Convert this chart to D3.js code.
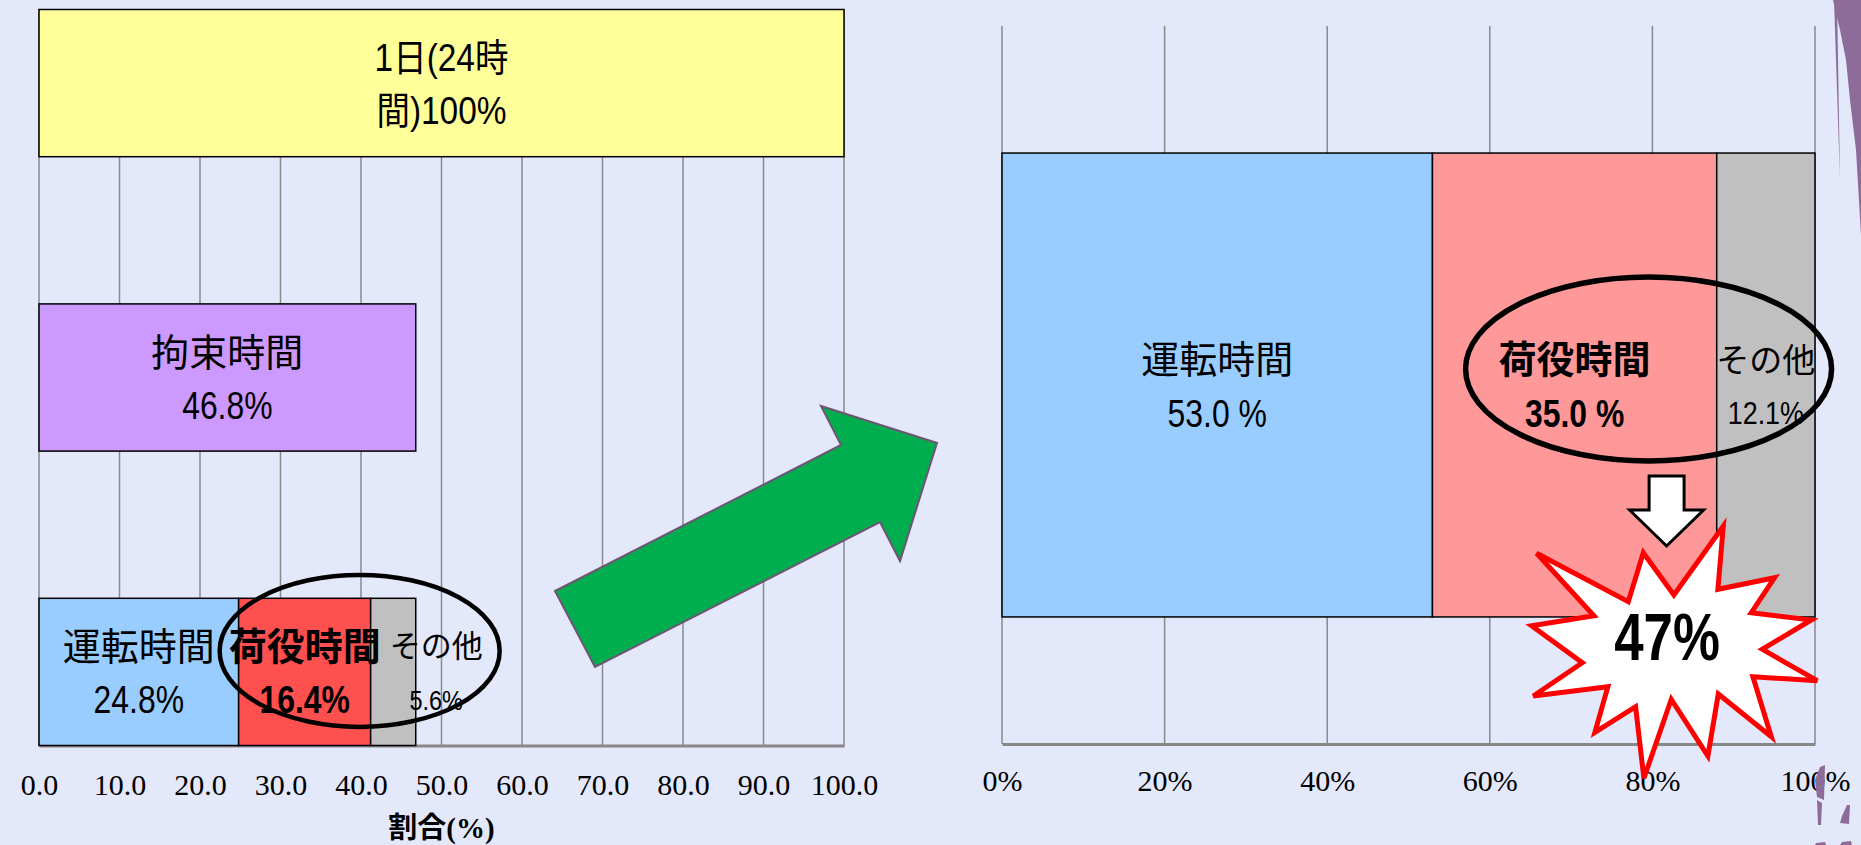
<!DOCTYPE html>
<html>
<head>
<meta charset="utf-8">
<script src="https://cdn.jsdelivr.net/npm/d3@7"></script>
<style>
  body { margin: 0; background: #e3e8fb; overflow: hidden; }
</style>
</head>
<body>
<div id="chart"></div>
<script>
// ---- data ----
var leftCategories = ["1日(24時間)", "拘束時間", "内訳"];
var dayShare = 100;          // 1日(24時間)
var bindShare = 46.8;        // 拘束時間
var partNames = ["運転時間", "荷役時間", "その他"];
var partShareOfDay = [24.8, 16.4, 5.6];     // % of the 24h day
var partShareOfBind = [53.0, 35.0, 12.1];   // % of 拘束時間
var leftTicks = [0, 10, 20, 30, 40, 50, 60, 70, 80, 90, 100];
var rightTicks = [0, 0.2, 0.4, 0.6, 0.8, 1];
var dayLabel = ["1日(24時", "間)100%"];
var bindLabel = ["拘束時間", "46.8%"];
var leftValueLabels = ["24.8%", "16.4%", "5.6%"];
var rightValueLabels = ["53.0 %", "35.0 %", "12.1%"];
var axisTitle = "割合(%)";
var highlightText = "47%";

// ---- setup ----
var W = 1861, H = 845;
var labelFont = "'Liberation Sans','Noto Sans CJK JP',sans-serif";
var tickFont = "'Liberation Serif','Noto Sans CJK JP',serif";

var svg = d3.select("#chart").append("svg")
    .attr("width", W)
    .attr("height", H)
    .style("background", "#e3e8fb");

// left chart scales
var xL = d3.scaleLinear().domain([0, 100]).range([39, 844]);
var yL = d3.scaleBand().domain(leftCategories).range([9.5, 745.5])
    .paddingInner(0.5).paddingOuter(0);

// right chart scales (100% stacked)
var xR = d3.scaleLinear().domain([0, 1]).range([1002, 1815]);
var yR = d3.scaleBand().domain(["内訳"]).range([26, 744]).padding(0.215);

var leftColors = ["#99ccff", "#ff5050", "#c0c0c0"];
var rightColors = ["#99ccff", "#ff9999", "#c0c0c0"];

// gridlines
function grid(g, x, ticks, y0, y1) {
  g.selectAll("line").data(ticks).enter().append("line")
    .attr("x1", function(d) { return x(d); })
    .attr("x2", function(d) { return x(d); })
    .attr("y1", y0).attr("y2", y1)
    .attr("stroke", "#8a8a8a").attr("stroke-width", 1.5);
}
grid(svg.append("g"), xL, leftTicks, yL.range()[0], yL.range()[1]);
grid(svg.append("g"), xR, rightTicks, yR.range()[0], yR.range()[1]);

// axes
var axL = svg.append("g").attr("transform", "translate(0," + yL.range()[1] + ")")
  .call(d3.axisBottom(xL).tickValues(leftTicks).tickFormat(d3.format(".1f")).tickSize(0).tickPadding(28));
var axR = svg.append("g").attr("transform", "translate(0," + yR.range()[1] + ")")
  .call(d3.axisBottom(xR).tickValues(rightTicks).tickFormat(d3.format(".0%")).tickSize(0).tickPadding(26));
[axL, axR].forEach(function(ax) {
  ax.attr("font-family", null);
  ax.select(".domain").attr("stroke", "#888").attr("stroke-width", 3);
  ax.selectAll("text").style("font-family", tickFont).attr("font-size", 30).attr("fill", "#000");
});

svg.append("text")
  .attr("x", (xL.range()[0] + xL.range()[1]) / 2)
  .attr("y", 838)
  .attr("text-anchor", "middle")
  .style("font-family", tickFont)
  .attr("font-weight", "bold")
  .attr("font-size", 29)
  .text(axisTitle);

// ---- label helper: one text per line, digits squeezed horizontally ----
function line(g, x, y, str, size, weight, sx) {
  g.append("text")
    .attr("transform", "translate(" + x + "," + y + ") scale(" + sx + ",1)")
    .attr("text-anchor", "middle")
    .attr("dominant-baseline", "central")
    .style("font-family", labelFont)
    .attr("font-size", size)
    .attr("font-weight", weight || "normal")
    .attr("fill", "#000")
    .text(str);
}
function twoLines(g, x, yc, lines, opts) {
  opts = opts || {};
  line(g, x, yc - 25, lines[0], opts.size || 38, opts.weight, opts.sx1 || 1);
  line(g, x, yc + 28, lines[1], opts.size2 || 38, opts.weight, opts.sx2 || 0.84);
}

// ---- left bars ----
var singles = [
  {cat: leftCategories[0], value: dayShare, color: "#ffff99", label: dayLabel, sx1: 0.88},
  {cat: leftCategories[1], value: bindShare, color: "#cc99ff", label: bindLabel, sx1: 1}
];
var gL = svg.append("g");
gL.selectAll("rect.single").data(singles).enter().append("rect")
  .attr("class", "single")
  .attr("x", xL(0))
  .attr("y", function(d) { return yL(d.cat); })
  .attr("width", function(d) { return xL(d.value) - xL(0); })
  .attr("height", yL.bandwidth())
  .attr("fill", function(d) { return d.color; })
  .attr("stroke", "#000").attr("stroke-width", 1.5);
singles.forEach(function(d) {
  twoLines(gL, xL(d.value / 2), yL(d.cat) + yL.bandwidth() / 2, d.label, {sx1: d.sx1, sx2: d.sx1 < 1 ? 0.88 : 0.84});
});

var rowL = {};
partNames.forEach(function(n, i) { rowL[n] = partShareOfDay[i]; });
var stackL = d3.stack().keys(partNames)([rowL]);
var yS = yL(leftCategories[2]);
gL.selectAll("rect.part").data(stackL).enter().append("rect")
  .attr("class", "part")
  .attr("x", function(s) { return xL(s[0][0]); })
  .attr("y", yS)
  .attr("width", function(s) { return xL(s[0][1]) - xL(s[0][0]); })
  .attr("height", yL.bandwidth())
  .attr("fill", function(s, i) { return leftColors[i]; })
  .attr("stroke", "#000").attr("stroke-width", 1.5);

var ycL = yS + yL.bandwidth() / 2;
stackL.forEach(function(s, i) {
  var cx = xL((s[0][0] + s[0][1]) / 2);
  if (i === 2) cx += 43;
  twoLines(gL, cx, ycL, [partNames[i], leftValueLabels[i]], {
    weight: i === 1 ? "bold" : "normal",
    size: i === 2 ? 31 : 38,
    size2: i === 2 ? 28 : 38
  });
});

// ---- right bar ----
var rowR = {};
partNames.forEach(function(n, i) { rowR[n] = partShareOfBind[i]; });
var stackR = d3.stack().keys(partNames).offset(d3.stackOffsetExpand)([rowR]);
var gR = svg.append("g");
gR.selectAll("rect").data(stackR).enter().append("rect")
  .attr("x", function(s) { return xR(s[0][0]); })
  .attr("y", yR("内訳"))
  .attr("width", function(s) { return xR(s[0][1]) - xR(s[0][0]); })
  .attr("height", yR.bandwidth())
  .attr("fill", function(s, i) { return rightColors[i]; })
  .attr("stroke", "#000").attr("stroke-width", 1.5);

var ycR = yR("内訳") + yR.bandwidth() / 2;
stackR.forEach(function(s, i) {
  var cx = xR((s[0][0] + s[0][1]) / 2);
  twoLines(gR, cx, ycR, [partNames[i], rightValueLabels[i]], {
    weight: i === 1 ? "bold" : "normal",
    size: i === 2 ? 33 : 38,
    size2: i === 2 ? 32 : 38
  });
});

// ---- annotations ----
var ann = svg.append("g");
// ellipses round 荷役時間
var hxL = xL((stackL[1][0][0] + stackL[1][0][1]) / 2);
ann.append("ellipse")
  .attr("cx", hxL + 55).attr("cy", ycL - 21).attr("rx", 140).attr("ry", 76)
  .attr("fill", "none").attr("stroke", "#000").attr("stroke-width", 4.5);

var hxR = xR((stackR[1][0][0] + stackR[1][0][1]) / 2);
ann.append("ellipse")
  .attr("cx", hxR + 74).attr("cy", ycR - 16).attr("rx", 183).attr("ry", 92)
  .attr("fill", "none").attr("stroke", "#000").attr("stroke-width", 5.5);

// green arrow between the two charts
var greenArrow = [[555, 591], [595, 667], [880, 522], [900, 561], [937, 443], [821, 406], [841, 445]];
ann.append("polygon")
  .attr("points", greenArrow.map(function(p) { return p.join(","); }).join(" "))
  .attr("fill", "#00ae4f").attr("stroke", "#6e5573").attr("stroke-width", 2);

// white down arrow
var ax0 = hxR + 92, ay0 = ycR + 91;
var downArrow = [[-17.5, 0], [17.5, 0], [17.5, 34], [37, 34], [0, 70], [-37, 34], [-17.5, 34]];
ann.append("polygon")
  .attr("points", downArrow.map(function(p) { return (ax0 + p[0]) + "," + (ay0 + p[1]); }).join(" "))
  .attr("fill", "#fff").attr("stroke", "#000").attr("stroke-width", 3).attr("stroke-linejoin", "miter");

// starburst with 47%
var sx = hxR + 93.5, sy = ycR + 266;
var burst = [[-131.5, -97.7], [-39.8, -49.3], [-24.8, -98.3], [5.8, -56], [55.2, -125], [49.8, -61.7],
  [106.5, -73.3], [83.2, -38.3], [143.2, -31], [94.2, -1.7], [149.2, 29.7], [84.8, 25.7],
  [103.2, 85.7], [50.2, 43], [39.8, 105], [3.2, 48.3], [-24.2, 127.3], [-32.5, 55.7],
  [-73.2, 81.3], [-60.2, 35.7], [-134.8, 45], [-85.8, 11.7], [-136.5, -25.3], [-74.2, -35.3]];
ann.append("polygon")
  .attr("points", burst.map(function(p) { return (sx + p[0]) + "," + (sy + p[1]); }).join(" "))
  .attr("fill", "#fff").attr("stroke", "#ff0000").attr("stroke-width", 5).attr("stroke-linejoin", "miter");
line(ann, sx - 1, sy - 14, highlightText, 66, "bold", 0.8);

// purple brush strokes at the right edge
var brush = [
  [[1833, 0], [1861, 0], [1861, 235], [1856, 150], [1850, 100], [1846, 60], [1840, 30]],
  [[1834, 0], [1837, 0], [1840, 180], [1838, 120]],
  [[1820, 767], [1825, 765], [1824, 800], [1817, 797], [1815, 780]],
  [[1817, 800], [1822, 803], [1821, 825], [1818, 825]],
  [[1847, 805], [1850, 805], [1849, 824], [1840, 823], [1842, 816]],
  [[1816, 843], [1825, 842], [1826, 845], [1815, 845]],
  [[1842, 842], [1851, 841], [1852, 845], [1840, 845]]
];
ann.selectAll("path.brush").data(brush).enter().append("path")
  .attr("class", "brush")
  .attr("d", function(d) { return d3.line()(d) + "Z"; })
  .attr("fill", "#8e6c99");
</script>
</body>
</html>
